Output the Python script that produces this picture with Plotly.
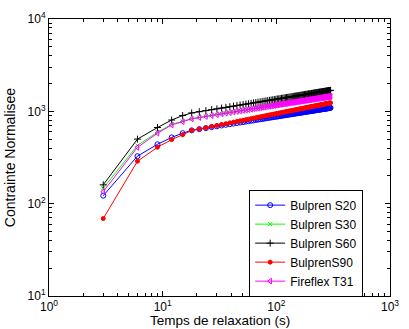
import plotly.graph_objects as go

time_s = [3 * k for k in range(1, 101)]

s20 = [122, 327, 440, 522, 580,
       622, 641, 658, 674, 688, 702, 714, 725, 736, 747, 756, 765, 774, 783, 791,
       798, 806, 813, 820, 827, 833, 840, 846, 852, 858, 863, 869, 874, 879, 884,
       889, 894, 899, 904, 908, 913, 917, 922, 926, 930, 934, 938, 942, 946, 950,
       954, 957, 961, 965, 968, 972, 975, 978, 982, 985, 988, 992, 995, 998, 1001,
       1004, 1007, 1010, 1013, 1016, 1019, 1022, 1024, 1027, 1030, 1033, 1035, 1038, 1041, 1043,
       1046, 1049, 1051, 1054, 1056, 1059, 1061, 1063, 1066, 1068, 1071, 1073, 1075, 1078, 1080,
       1082, 1084, 1087, 1089, 1091]

s30 = [147, 427, 595, 722, 782,
       834, 860, 884, 905, 924, 941, 958, 973, 988, 1001, 1014, 1027, 1038, 1050, 1060,
       1071, 1081, 1090, 1099, 1109, 1117, 1126, 1134, 1142, 1149, 1157, 1164, 1171, 1178, 1185,
       1192, 1198, 1205, 1211, 1217, 1223, 1229, 1235, 1241, 1246, 1252, 1257, 1262, 1267, 1273,
       1278, 1282, 1287, 1292, 1297, 1302, 1306, 1311, 1315, 1320, 1324, 1328, 1332, 1337, 1341,
       1345, 1349, 1353, 1357, 1361, 1365, 1368, 1372, 1376, 1380, 1383, 1387, 1390, 1394, 1397,
       1401, 1404, 1408, 1411, 1414, 1418, 1421, 1424, 1427, 1431, 1434, 1437, 1440, 1443, 1446,
       1449, 1452, 1455, 1458, 1461]

s60 = [160, 500, 668, 805, 900,
       961, 991, 1018, 1042, 1064, 1085, 1104, 1122, 1139, 1154, 1169, 1184, 1197, 1210, 1223,
       1235, 1246, 1257, 1268, 1279, 1289, 1298, 1308, 1317, 1326, 1335, 1343, 1351, 1360, 1367,
       1375, 1383, 1390, 1398, 1404, 1412, 1418, 1425, 1432, 1438, 1444, 1450, 1457, 1463, 1469,
       1474, 1480, 1486, 1491, 1497, 1502, 1508, 1513, 1518, 1523, 1528, 1533, 1538, 1543, 1548,
       1553, 1557, 1562, 1566, 1571, 1575, 1580, 1584, 1588, 1593, 1597, 1601, 1605, 1609, 1613,
       1617, 1621, 1625, 1629, 1633, 1637, 1641, 1644, 1648, 1652, 1655, 1659, 1663, 1666, 1670,
       1673, 1677, 1680, 1684, 1687]

s90 = [69, 288, 408, 494, 558,
       620, 644, 666, 685, 703, 720, 735, 750, 763, 777, 789, 801, 812, 823, 833,
       843, 853, 862, 871, 880, 889, 897, 905, 913, 920, 928, 935, 942, 949, 956,
       962, 969, 975, 981, 987, 994, 999, 1005, 1011, 1016, 1022, 1027, 1033, 1038, 1043,
       1048, 1053, 1058, 1063, 1068, 1072, 1077, 1082, 1086, 1091, 1095, 1099, 1104, 1108, 1112,
       1116, 1121, 1125, 1129, 1133, 1137, 1140, 1144, 1148, 1152, 1156, 1159, 1163, 1167, 1170,
       1174, 1177, 1181, 1184, 1188, 1191, 1195, 1198, 1201, 1204, 1208, 1211, 1214, 1217, 1221,
       1224, 1227, 1230, 1233, 1236]

t31 = [135, 407, 580, 712, 772,
       829, 855, 879, 900, 919, 936, 953, 968, 983, 996, 1009, 1022, 1033, 1045, 1055,
       1066, 1076, 1085, 1094, 1104, 1112, 1121, 1129, 1137, 1144, 1152, 1159, 1166, 1173, 1180,
       1187, 1193, 1200, 1206, 1212, 1218, 1224, 1230, 1236, 1241, 1247, 1252, 1257, 1262, 1268,
       1273, 1277, 1282, 1287, 1292, 1297, 1301, 1306, 1310, 1315, 1319, 1323, 1327, 1332, 1336,
       1340, 1344, 1348, 1352, 1356, 1360, 1363, 1367, 1371, 1375, 1378, 1382, 1385, 1389, 1392,
       1396, 1399, 1403, 1406, 1409, 1413, 1416, 1419, 1422, 1426, 1429, 1432, 1435, 1438, 1441,
       1444, 1447, 1450, 1453, 1456]

names = ["Bulpren S20", "Bulpren S30", "Bulpren S60", "BulprenS90", "Fireflex T31"]
colors = ["#0000ff", "#00ff00", "#000000", "#ff0000", "#ff00ff"]
symbols = ["circle-open", "x-thin-open", "cross-thin-open", "circle", "triangle-left-open"]
sizes = [5, 4, 5, 4, 5]

x_tickvals = [1, 10, 100, 1000]
x_ticktext = ["10<sup>0</sup>", "10<sup>1</sup>", "10<sup>2</sup>", "10<sup>3</sup>"]
y_tickvals = [10, 100, 1000, 10000]
y_ticktext = ["10<sup>1</sup>", "10<sup>2</sup>", "10<sup>3</sup>", "10<sup>4</sup>"]

FONT = "Liberation Sans, Arial, sans-serif"

fig = go.Figure()
for name, ys, c, s, sz in zip(names, [s20, s30, s60, s90, t31], colors, symbols, sizes):
    fig.add_trace(go.Scatter(
        x=time_s, y=ys, name=name, mode="lines+markers",
        line=dict(color=c, width=1),
        marker=dict(symbol=s, size=sz, color=c, line=dict(color=c, width=1)),
    ))

minor_x = [m * 10 ** e for e in range(0, 3) for m in range(2, 10)]
minor_y = [m * 10 ** e for e in range(1, 4) for m in range(2, 10)]

axis_common = dict(
    showline=True, linecolor="black", linewidth=1, mirror="ticks",
    ticks="inside", ticklen=5, tickcolor="black", showgrid=False, zeroline=False,
    tickfont=dict(family=FONT, size=12, color="black"),
)

fig.update_layout(
    width=409, height=329,
    margin=dict(l=43, r=10, t=15, b=33),
    paper_bgcolor="white", plot_bgcolor="white",
    font=dict(family=FONT, size=12, color="black"),
    hovermode=False,
    xaxis=dict(type="log", range=[0, 3], tickmode="array", tickvals=x_tickvals, ticktext=x_ticktext,
               minor=dict(tickmode="array", tickvals=minor_x, ticks="inside", ticklen=3, tickcolor="black"),
               ticklabelstandoff=0,
               **axis_common),
    yaxis=dict(type="log", range=[1, 4], tickmode="array", tickvals=y_tickvals, ticktext=y_ticktext,
               minor=dict(tickmode="array", tickvals=minor_y, ticks="inside", ticklen=3, tickcolor="black"),
               title=dict(text="Contrainte Normalisee", font=dict(family=FONT, size=14), standoff=8),
               **axis_common),
    legend=dict(x=0.587, y=0.384, xanchor="left", yanchor="top",
                bordercolor="black", borderwidth=1, bgcolor="white",
                font=dict(family=FONT, size=12), tracegroupgap=0, itemwidth=30),
    annotations=[dict(text="Temps de relaxation (s)", xref="paper", yref="paper",
                      x=0.5, y=-0.118, xanchor="center", yanchor="bottom", showarrow=False,
                      borderpad=0,
                      font=dict(family=FONT, size=13.5, color="black"))],
    showlegend=True,
)

fig.write_html("out.html", config={"displayModeBar": False},
               post_script="document.body.style.margin='0';document.body.style.overflow='hidden';")
